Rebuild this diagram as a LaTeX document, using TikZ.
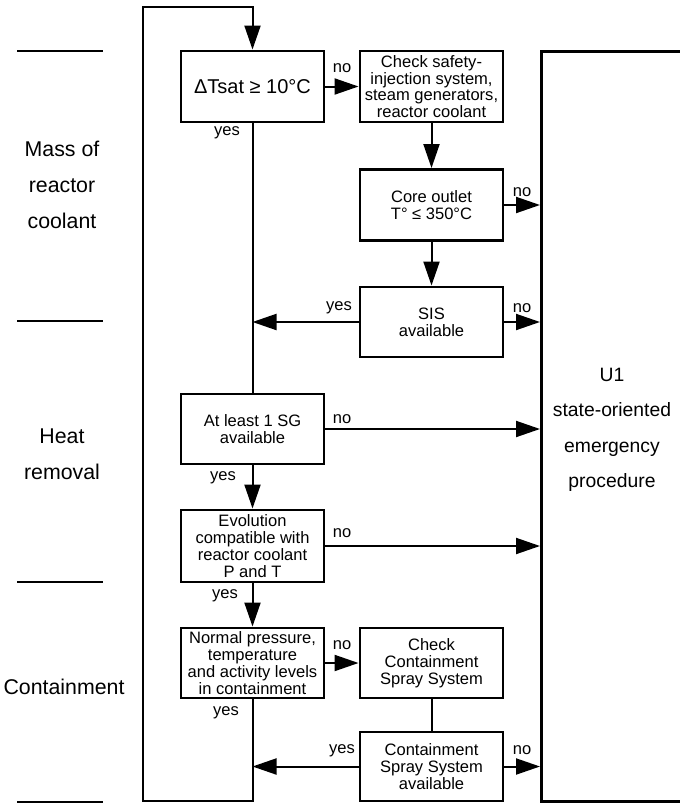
\documentclass[tikz,border=0pt]{standalone}
\usepackage{fontspec}
\setmainfont{Liberation Sans}
\usetikzlibrary{arrows.meta}

\begin{document}
\begin{tikzpicture}[x=0.75pt,y=-0.75pt,>={Triangle[length=18pt,width=12pt]},
  proc/.style={draw,line width=2.2pt,minimum width=107.25pt,minimum height=52.5pt,align=center,inner sep=1pt,font=\fontsize{12.4}{12.6}\selectfont},
  conn/.style={line width=1.5pt},
  lbl/.style={inner sep=0pt,font=\fontsize{12.4}{12.6}\selectfont},
  side/.style={align=center,font=\fontsize{16}{27}\selectfont}]
\useasboundingbox (0,0) rectangle (679,803);
% left column: the three safety functions
\foreach \yy in {51,321,582,802}
  \draw[conn] (17,\yy) -- (103,\yy);
\node[side] (mass) at (62,185) {Mass of\\reactor\\coolant};
\node[side] (heat) at (62,454) {Heat\\removal};
\node[side] (cment) at (64,687) {Containment};
% decision boxes
\node[proc,minimum height=53.25pt,font=\fontsize{15}{18}\selectfont] (dts) at (252.5,86.5) {ΔTsat ≥ 10°C};
\node[proc,minimum height=53.25pt] (chk) at (431.5,86.5) {Check safety-\\injection system,\\steam generators,\\reactor coolant};
\node[proc,minimum height=53.25pt] (core) at (431.5,205) {Core outlet\\T° ≤ 350°C};
\node[proc] (sis) at (431.5,322) {SIS\\available};
\node[proc] (sg) at (252.5,429) {At least 1 SG\\available};
\node[proc,minimum height=54pt] (evo) at (252.5,546) {Evolution\\compatible with\\reactor coolant\\P and T};
\node[proc] (cont) at (252.5,663) {Normal pressure,\\temperature\\and activity levels\\in containment};
\node[proc] (chkcss) at (431.5,663) {Check\\Containment\\Spray System};
\node[proc,minimum height=51.75pt] (css) at (431.5,766.5) {Containment\\Spray System\\available};
% U1 procedure
\node[draw,line width=2.2pt,inner sep=0pt,anchor=north west,minimum width=150pt,minimum height=562.5pt] (u1) at (540,50) {};
\node[align=center,font=\fontsize{14.5}{26.6}\selectfont] (u1txt) at (612,430) {U1\\state-oriented\\emergency\\procedure};
% connectors
\coordinate (lpb) at (143,801);
\coordinate (lpt) at (143,7);
\draw[conn,->] (cont.south) |- (lpb) -- (lpt) -| (dts.north);
\draw[conn,->] (dts) -- (chk);
\draw[conn,->] (chk) -- (core);
\draw[conn,->] (core) -- (sis);
\draw[conn,->] (core.east) -- (core.east -| u1.west);
\draw[conn,->] (sis.east) -- (sis.east -| u1.west);
\draw[conn,->] (sis.west) -- (sis.west -| dts.south);
\draw[conn] (dts) -- (sg);
\draw[conn,->] (sg.east) -- (sg.east -| u1.west);
\draw[conn,->] (sg) -- (evo);
\draw[conn,->] (evo.east) -- (evo.east -| u1.west);
\draw[conn,->] (evo) -- (cont);
\draw[conn,->] (cont) -- (chkcss);
\draw[conn] (chkcss) -- (css);
\draw[conn,->] (css.east) -- (css.east -| u1.west);
\draw[conn,->] (css.west) -- (css.west -| cont.south);
% yes / no
\node[lbl] (n1) at (342,68) {no};
\node[lbl] (y1) at (227,133) {yes};
\node[lbl] (n2) at (522,192) {no};
\node[lbl] (y2) at (339,308) {yes};
\node[lbl] (n3) at (522,308) {no};
\node[lbl] (n4) at (342,419) {no};
\node[lbl] (y3) at (223,478) {yes};
\node[lbl] (n5) at (342,533) {no};
\node[lbl] (y4) at (225,596) {yes};
\node[lbl] (n6) at (342,645) {no};
\node[lbl] (y5) at (226,713) {yes};
\node[lbl] (y6) at (342,751) {yes};
\node[lbl] (n7) at (522,750) {no};
\end{tikzpicture}
\end{document}
